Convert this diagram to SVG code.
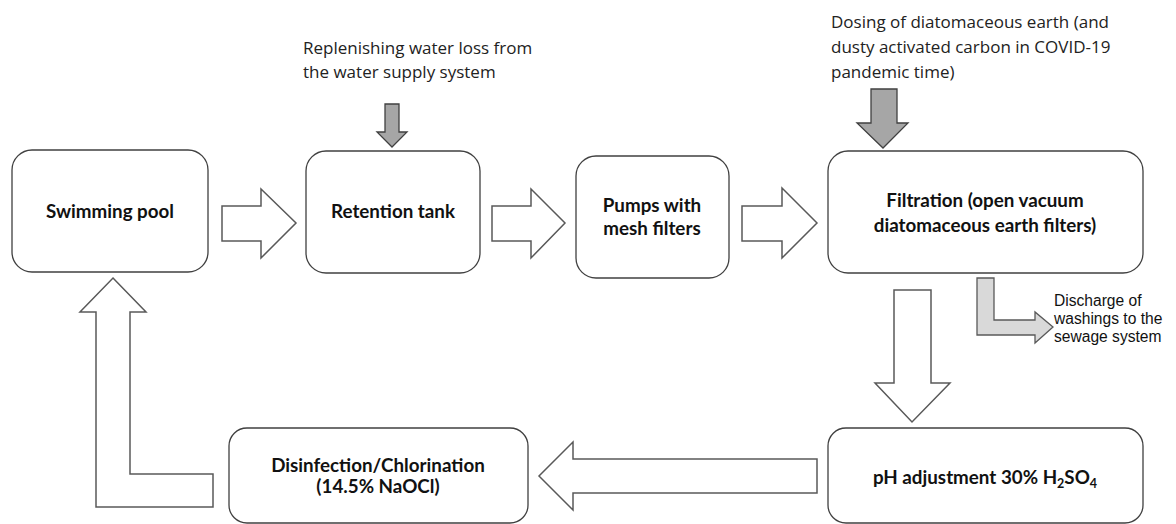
<svg xmlns="http://www.w3.org/2000/svg" width="1176" height="524" viewBox="0 0 1176 524">
<style>
.box{fill:#fff;stroke:#404040;stroke-width:1.3}
.arrow{fill:#fff;stroke:#595959;stroke-width:1.5;stroke-linejoin:miter}
.dark{fill:#a6a6a6;stroke:#404040;stroke-width:1.3}
.light{fill:#d9d9d9;stroke:#595959;stroke-width:1.3}
.bt{font-family:Lato,"Liberation Sans",sans-serif;font-weight:bold;font-size:18.8px;fill:#111;text-anchor:middle}
.nt{font-family:"Open Sans","Noto Sans",sans-serif;font-size:17px;fill:#222}
.at{font-family:"Liberation Sans",Arial,sans-serif;font-size:15.6px;fill:#111}
</style>
<rect width="1176" height="524" fill="#fff"/>
<g id="connectors">
<polygon class="arrow" points="222,206 261,206 261,189 296,223 261,258 261,241 222,241"/>
<polygon class="arrow" points="492,206 531,206 531,189 565,223 531,258 531,241 492,241"/>
<polygon class="arrow" points="742,206 782,206 782,188 817,223 782,258 782,241 742,241"/>
<polygon class="arrow" points="894,290 931,290 931,383 950,383 912,422 875,383 894,383"/>
<polygon class="arrow" points="817,459 817,493 573,493 573,510 539,476 573,442 573,459"/>
<polygon class="arrow" points="113,278 146,312 130,312 130,474 213,474 213,507 96,507 96,312 80,312"/>
<polygon class="dark" points="385,104 399,104 399,132 407,132 392,147 377,132 385,132"/>
<polygon class="dark" points="871,89 897,89 897,123 908,123 883,148 857,123 871,123"/>
<polygon class="light" points="977,278 994,278 994,320 1035,320 1035,312 1053,327 1035,343 1035,335 977,335"/>
</g>
<g id="label-replenish">
<text class="nt" x="303" y="54">Replenishing water loss from</text>
<text class="nt" x="303" y="78">the water supply system</text>
</g>
<g id="label-dosing">
<text class="nt" x="831" y="28">Dosing of diatomaceous earth (and</text>
<text class="nt" x="831" y="53">dusty activated carbon in COVID-19</text>
<text class="nt" x="831" y="78">pandemic time)</text>
</g>
<g id="label-discharge">
<text class="at" x="1054" y="306">Discharge of</text>
<text class="at" x="1054" y="324">washings to the</text>
<text class="at" x="1054" y="342">sewage system</text>
</g>
<g id="node-pool">
<rect class="box" x="12" y="150" width="196" height="122" rx="20"/>
<text class="bt" x="110" y="218">Swimming pool</text>
</g>
<g id="node-retention">
<rect class="box" x="306" y="151" width="174" height="122" rx="20"/>
<text class="bt" x="393" y="218">Retention tank</text>
</g>
<g id="node-pumps">
<rect class="box" x="576" y="156" width="153" height="122" rx="20"/>
<text class="bt" x="652" y="212">Pumps with</text>
<text class="bt" x="652" y="235">mesh filters</text>
</g>
<g id="node-filtration">
<rect class="box" x="828" y="151" width="315" height="122" rx="20"/>
<text class="bt" x="985" y="207">Filtration (open vacuum</text>
<text class="bt" x="985" y="232">diatomaceous earth filters)</text>
</g>
<g id="node-ph">
<rect class="box" x="828" y="428" width="315" height="95" rx="18"/>
<text class="bt" x="985" y="484">pH adjustment 30% H<tspan font-size="12.5" dy="4">2</tspan><tspan dy="-4">SO</tspan><tspan font-size="12.5" dy="4">4</tspan></text>
</g>
<g id="node-disinfection">
<rect class="box" x="229" y="428" width="299" height="95" rx="18"/>
<text class="bt" x="378" y="472">Disinfection/Chlorination</text>
<text class="bt" x="378" y="493">(14.5% NaOCl)</text>
</g>
</svg>
